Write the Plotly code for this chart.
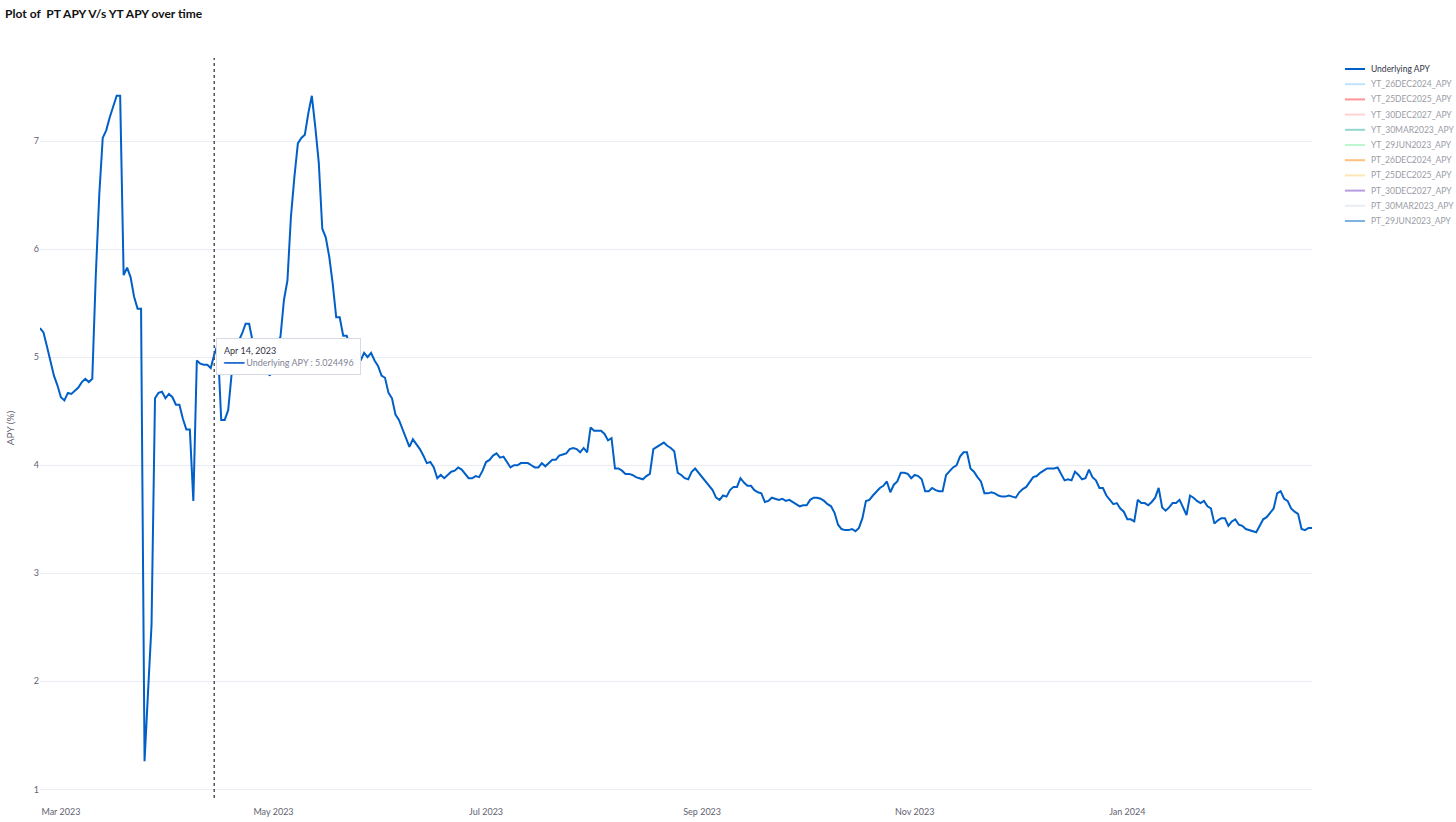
import pandas as pd
import plotly.graph_objects as go

# ---------------- data ----------------
start_date = "2023-02-23"
end_date = "2024-02-23"

underlying_apy = [
    5.27, 5.23, 5.10, 4.97, 4.83, 4.74, 4.63, 4.60, 4.67, 4.66,
    4.69, 4.72, 4.77, 4.80, 4.77, 4.80, 5.75, 6.50, 7.03, 7.10,
    7.22, 7.33, 7.42, 7.42, 5.76, 5.83, 5.74, 5.56, 5.45, 5.45,
    1.26, 1.90, 2.52, 4.62, 4.67, 4.68, 4.62, 4.66, 4.63, 4.56,
    4.56, 4.43, 4.33, 4.33, 3.67, 4.97, 4.94, 4.93, 4.93, 4.90,
    5.024496, 5.12, 4.42, 4.42, 4.51, 4.85, 5.00, 5.15, 5.22, 5.31,
    5.31, 5.15, 5.05, 4.95, 4.88, 4.86, 4.83, 4.98, 5.12, 5.19,
    5.53, 5.71, 6.30, 6.67, 6.98, 7.03, 7.06, 7.26, 7.42, 7.13,
    6.80, 6.19, 6.11, 5.93, 5.68, 5.37, 5.37, 5.20, 5.20, 5.10,
    5.08, 5.05, 4.97, 5.04, 5.00, 5.04, 4.97, 4.92, 4.83, 4.81,
    4.67, 4.62, 4.47, 4.42, 4.33, 4.25, 4.17, 4.24, 4.20, 4.15,
    4.09, 4.02, 4.03, 3.98, 3.88, 3.91, 3.88, 3.91, 3.94, 3.95,
    3.98, 3.96, 3.92, 3.88, 3.88, 3.90, 3.89, 3.95, 4.03, 4.05,
    4.09, 4.11, 4.07, 4.08, 4.03, 3.98, 4.00, 4.00, 4.02, 4.02,
    4.02, 4.00, 3.98, 3.98, 4.02, 3.99, 4.02, 4.05, 4.05, 4.09,
    4.10, 4.11, 4.15, 4.16, 4.15, 4.12, 4.16, 4.12, 4.35, 4.32,
    4.32, 4.32, 4.29, 4.23, 4.25, 3.97, 3.97, 3.95, 3.92, 3.92,
    3.91, 3.89, 3.88, 3.87, 3.90, 3.92, 4.15, 4.17, 4.19, 4.21,
    4.18, 4.16, 4.13, 3.93, 3.91, 3.88, 3.87, 3.94, 3.97, 3.93,
    3.90, 3.85, 3.81, 3.77, 3.70, 3.68, 3.72, 3.71, 3.77, 3.80,
    3.80, 3.88, 3.84, 3.81, 3.81, 3.77, 3.75, 3.74, 3.66, 3.67,
    3.70, 3.69, 3.68, 3.69, 3.67, 3.68, 3.66, 3.64, 3.62, 3.63,
    3.63, 3.68, 3.70, 3.70, 3.69, 3.67, 3.64, 3.62, 3.56, 3.45,
    3.41, 3.40, 3.40, 3.41, 3.39, 3.42, 3.51, 3.67, 3.68, 3.72,
    3.76, 3.79, 3.81, 3.85, 3.75, 3.82, 3.85, 3.93, 3.93, 3.92,
    3.88, 3.91, 3.90, 3.87, 3.76, 3.76, 3.79, 3.77, 3.76, 3.76,
    3.91, 3.95, 3.98, 4.00, 4.08, 4.12, 4.12, 3.97, 3.94, 3.89,
    3.85, 3.74, 3.74, 3.75, 3.74, 3.72, 3.71, 3.71, 3.72, 3.71,
    3.70, 3.75, 3.78, 3.80, 3.84, 3.89, 3.90, 3.93, 3.95, 3.97,
    3.97, 3.97, 3.98, 3.92, 3.86, 3.87, 3.86, 3.94, 3.91, 3.87,
    3.88, 3.96, 3.89, 3.86, 3.79, 3.79, 3.72, 3.68, 3.64, 3.65,
    3.60, 3.57, 3.50, 3.50, 3.48, 3.68, 3.65, 3.65, 3.63, 3.66,
    3.70, 3.79, 3.61, 3.58, 3.61, 3.65, 3.65, 3.68, 3.61, 3.54,
    3.72, 3.70, 3.67, 3.65, 3.67, 3.62, 3.60, 3.46, 3.49, 3.51,
    3.51, 3.44, 3.48, 3.50, 3.45, 3.44, 3.41, 3.40, 3.39, 3.38,
    3.44, 3.50, 3.52, 3.56, 3.60, 3.74, 3.76, 3.69, 3.67, 3.60,
    3.57, 3.55, 3.41, 3.40, 3.42, 3.42,
]

legend_names = [
    "Underlying APY",
    "YT_26DEC2024_APY", "YT_25DEC2025_APY", "YT_30DEC2027_APY",
    "YT_30MAR2023_APY", "YT_29JUN2023_APY",
    "PT_26DEC2024_APY", "PT_25DEC2025_APY", "PT_30DEC2027_APY",
    "PT_30MAR2023_APY", "PT_29JUN2023_APY",
]
legend_colors = [
    "#0060c8",
    "#83c9ff", "#ff2b2b", "#ffabab", "#29b09d", "#7defa1",
    "#ff8700", "#ffd16a", "#6d3fc0", "#d5dae5", "#0068c9",
]

hover_date = "2023-04-14"
y_ticks = [1, 2, 3, 4, 5, 6, 7]

# ---------------- figure ----------------
dates = pd.date_range(start_date, end_date, freq="D")
FONT = "Source Sans Pro, Lato, Roboto, sans-serif"

fig = go.Figure()
fig.add_trace(go.Scatter(
    x=dates, y=underlying_apy, mode="lines", name=legend_names[0],
    line=dict(color=legend_colors[0], width=2), showlegend=False,
))

# hover spike line
fig.add_shape(type="line", xref="x", yref="paper",
              x0=hover_date, x1=hover_date, y0=0, y1=1,
              line=dict(color="#555555", width=1.5, dash="dot"))

# tooltip replica
hover_val = underlying_apy[list(dates.strftime("%Y-%m-%d")).index(hover_date)]
hover_label = pd.Timestamp(hover_date).strftime("%b %d, %Y").replace(" 0", " ")
fig.add_annotation(
    x=hover_date, y=5.01, xref="x", yref="y", xanchor="left", yanchor="middle",
    xshift=2, align="left", showarrow=False,
    text=(f"<span style='color:#31333F'>{hover_label}</span><br>"
          f"<span style='color:{legend_colors[0]}'>━━━━</span> "
          f"<span style='color:#808495'>{legend_names[0]} : {hover_val:.6f}</span>"),
    bgcolor="white", bordercolor="#d5dae5", borderwidth=1, borderpad=6,
    font=dict(family=FONT, size=9),
)

# manual legend (compact spacing as in the reference)
leg_top = (798 - 69) / 740
leg_step = 15.2 / 740
for k, (nm, col) in enumerate(zip(legend_names, legend_colors)):
    yy = leg_top - k * leg_step
    active = k == 0
    fig.add_shape(type="line", xref="paper", yref="paper",
                  x0=1.0259, x1=1.0417, y0=yy, y1=yy,
                  line=dict(color=col, width=2), opacity=1.0 if active else 0.5)
    fig.add_annotation(x=1.0448, y=yy, xref="paper", yref="paper",
                       xanchor="left", yanchor="middle", showarrow=False,
                       text=nm,
                       font=dict(family=FONT, size=8.5,
                                 color="#31333F" if active else "#9a9ca6"))

fig.update_layout(
    width=1456, height=822,
    margin=dict(l=40, r=144, t=58, b=24),
    paper_bgcolor="white", plot_bgcolor="white",
    font=dict(family=FONT, size=9, color="#808495"),
    title=dict(text="<b>Plot of  PT APY V/s YT APY over time</b>",
               x=0.0035, xanchor="left", xref="container",
               y=0.983, yanchor="middle",
               font=dict(family=FONT, size=12, color="#111111")),
    showlegend=False,
    xaxis=dict(range=[start_date, end_date], showgrid=False, zeroline=False,
               showline=False, dtick="M2", tick0="2023-01-01",
               tickformat="%b %Y", ticks="", ticklabelstandoff=7,
               automargin=False,
               tickfont=dict(family=FONT, size=9, color="#5f6270")),
    yaxis=dict(range=[0.92, 7.77], tickvals=y_ticks, showgrid=True,
               gridcolor="#e9ecf2", gridwidth=1, zeroline=False,
               showline=False, ticks="", automargin=False,
               tickfont=dict(family=FONT, size=9, color="#5f6270"),
               title=dict(text="APY (%)", standoff=17,
                          font=dict(family=FONT, size=10, color="#5f6270"))),
)

fig.write_html("out.html", config={"displayModeBar": False},
               post_script="document.body.style.margin='0';")
